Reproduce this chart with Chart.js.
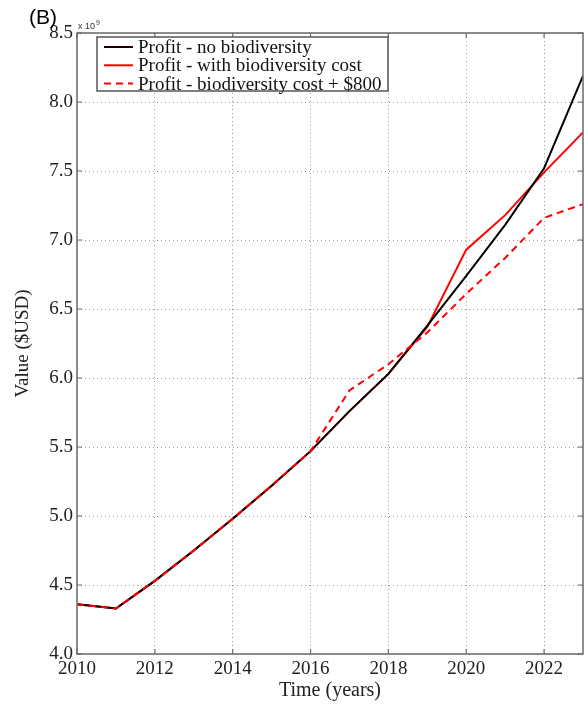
<!DOCTYPE html>
<html>
<head>
<meta charset="utf-8">
<script src="https://cdn.jsdelivr.net/npm/chart.js@4.4.1/dist/chart.umd.min.js"></script>
<style>
html,body{margin:0;padding:0;background:#fff;}
canvas{display:block;}
</style>
</head>
<body>
<canvas id="c" width="584" height="708"></canvas>
<script>
const years = [2010, 2011, 2012, 2013, 2014, 2015, 2016, 2017, 2018, 2019, 2020, 2021, 2022, 2023];
const profitNoBio = [4.36, 4.33, 4.53, 4.75, 4.98, 5.22, 5.47, 5.76, 6.03, 6.38, 6.74, 7.11, 7.52, 8.19];
const profitWithBio = [4.36, 4.33, 4.53, 4.75, 4.98, 5.22, 5.47, 5.76, 6.03, 6.37, 6.93, 7.18, 7.49, 7.78];
const profitBioPlus800 = [4.36, 4.33, 4.53, 4.75, 4.98, 5.22, 5.47, 5.91, 6.10, 6.33, 6.61, 6.87, 7.16, 7.26];
const seriesLabels = ["Profit - no biodiversity", "Profit - with biodiversity cost", "Profit - biodiversity cost + $800"];
const xTickValues = [2010, 2012, 2014, 2016, 2018, 2020, 2022];
const yTickValues = [4.0, 4.5, 5.0, 5.5, 6.0, 6.5, 7.0, 7.5, 8.0, 8.5];
const panelLabel = "(B)";
const exponentLabel = "x 10";
const exponentPower = "9";

const pts = arr => arr.map((v, i) => ({x: years[i], y: v}));
const SERIF = "'Liberation Serif', 'DejaVu Serif', serif";

const boxPlugin = {
  id: 'boxPlugin',
  afterDraw(chart) {
    const ctx = chart.ctx;
    const a = chart.chartArea;
    const xs = chart.scales.x, ys = chart.scales.y;
    ctx.save();
    // frame
    ctx.strokeStyle = '#6a6a6a';
    ctx.lineWidth = 1.5;
    ctx.strokeRect(a.left, a.top, a.right - a.left, a.bottom - a.top);
    // inward ticks
    ctx.lineWidth = 1.2;
    ctx.beginPath();
    xTickValues.forEach(v => {
      const px = xs.getPixelForValue(v);
      ctx.moveTo(px, a.bottom); ctx.lineTo(px, a.bottom - 5);
      ctx.moveTo(px, a.top); ctx.lineTo(px, a.top + 5);
    });
    yTickValues.forEach(v => {
      const py = ys.getPixelForValue(v);
      ctx.moveTo(a.left, py); ctx.lineTo(a.left + 5, py);
      ctx.moveTo(a.right, py); ctx.lineTo(a.right - 5, py);
    });
    ctx.stroke();

    // legend box
    const lx = 97, ly = 37, lw = 291, lh = 54;
    ctx.fillStyle = '#fff';
    ctx.fillRect(lx, ly, lw, lh);
    ctx.strokeStyle = '#555';
    ctx.lineWidth = 1.5;
    ctx.strokeRect(lx, ly, lw, lh);
    ctx.font = "19px " + SERIF;
    ctx.textBaseline = 'middle';
    ctx.textAlign = 'left';
    chart.data.datasets.forEach((ds, i) => {
      const cy = ly + 10 + i * 18.3;
      ctx.strokeStyle = ds.legendColor || ds.borderColor;
      ctx.lineWidth = 2;
      ctx.setLineDash(ds.borderDash || []);
      ctx.beginPath();
      ctx.moveTo(lx + 7, cy); ctx.lineTo(lx + 36, cy);
      ctx.stroke();
      ctx.setLineDash([]);
      ctx.fillStyle = '#111';
      ctx.fillText(ds.label, lx + 41, cy + 1);
    });

    // panel label and exponent
    ctx.fillStyle = '#000';
    ctx.font = "21px 'Liberation Sans', Arial, sans-serif";
    ctx.textBaseline = 'alphabetic';
    ctx.fillText(panelLabel, 29, 24);
    ctx.fillStyle = '#333';
    ctx.font = "9px 'Liberation Sans', Arial, sans-serif";
    ctx.fillText(exponentLabel, 78, 29);
    const w = ctx.measureText(exponentLabel).width;
    ctx.font = "7px 'Liberation Sans', Arial, sans-serif";
    ctx.fillText(exponentPower, 78 + w + 1, 25);
    ctx.restore();
  }
};

new Chart(document.getElementById('c'), {
  type: 'line',
  data: {
    datasets: [
      {label: seriesLabels[0], data: pts(profitNoBio), borderColor: '#000000', legendColor: '#1a0000', borderWidth: 2, pointRadius: 0, tension: 0, order: 2},
      {label: seriesLabels[1], data: pts(profitWithBio), borderColor: '#ff0000', borderWidth: 2, pointRadius: 0, tension: 0, order: 3},
      {label: seriesLabels[2], data: pts(profitBioPlus800), borderColor: '#ff0000', borderWidth: 2, borderDash: [7, 5], pointRadius: 0, tension: 0, order: 1}
    ]
  },
  options: {
    responsive: false,
    devicePixelRatio: 1,
    animation: false,
    layout: {padding: {top: 33, right: 1, left: 0, bottom: 0}},
    plugins: {legend: {display: false}, tooltip: {enabled: false}},
    scales: {
      x: {
        type: 'linear', min: 2010, max: 2023,
        afterBuildTicks: s => { s.ticks = xTickValues.map(v => ({value: v})); },
        afterFit: s => { s.height = 54; },
        grid: {color: '#9a9a9a', lineWidth: 1, drawTicks: false},
        border: {display: false, dash: [1, 3]},
        ticks: {font: {family: SERIF, size: 19}, color: '#222', padding: 4, maxRotation: 0, callback: v => String(v)},
        title: {display: true, text: 'Time (years)', font: {family: SERIF, size: 20}, color: '#222', padding: {top: 0, bottom: 5}}
      },
      y: {
        type: 'linear', min: 4, max: 8.5,
        afterBuildTicks: s => { s.ticks = yTickValues.map(v => ({value: v})); },
        afterFit: s => { s.width = 77; },
        grid: {color: '#9a9a9a', lineWidth: 1, drawTicks: false},
        border: {display: false, dash: [1, 3]},
        ticks: {font: {family: SERIF, size: 19}, color: '#222', padding: 4, callback: v => Number(v).toFixed(1)},
        title: {display: true, text: 'Value ($USD)', font: {family: SERIF, size: 19}, color: '#222', padding: {top: 12, bottom: 0}}
      }
    }
  },
  plugins: [boxPlugin]
});
</script>
</body>
</html>
